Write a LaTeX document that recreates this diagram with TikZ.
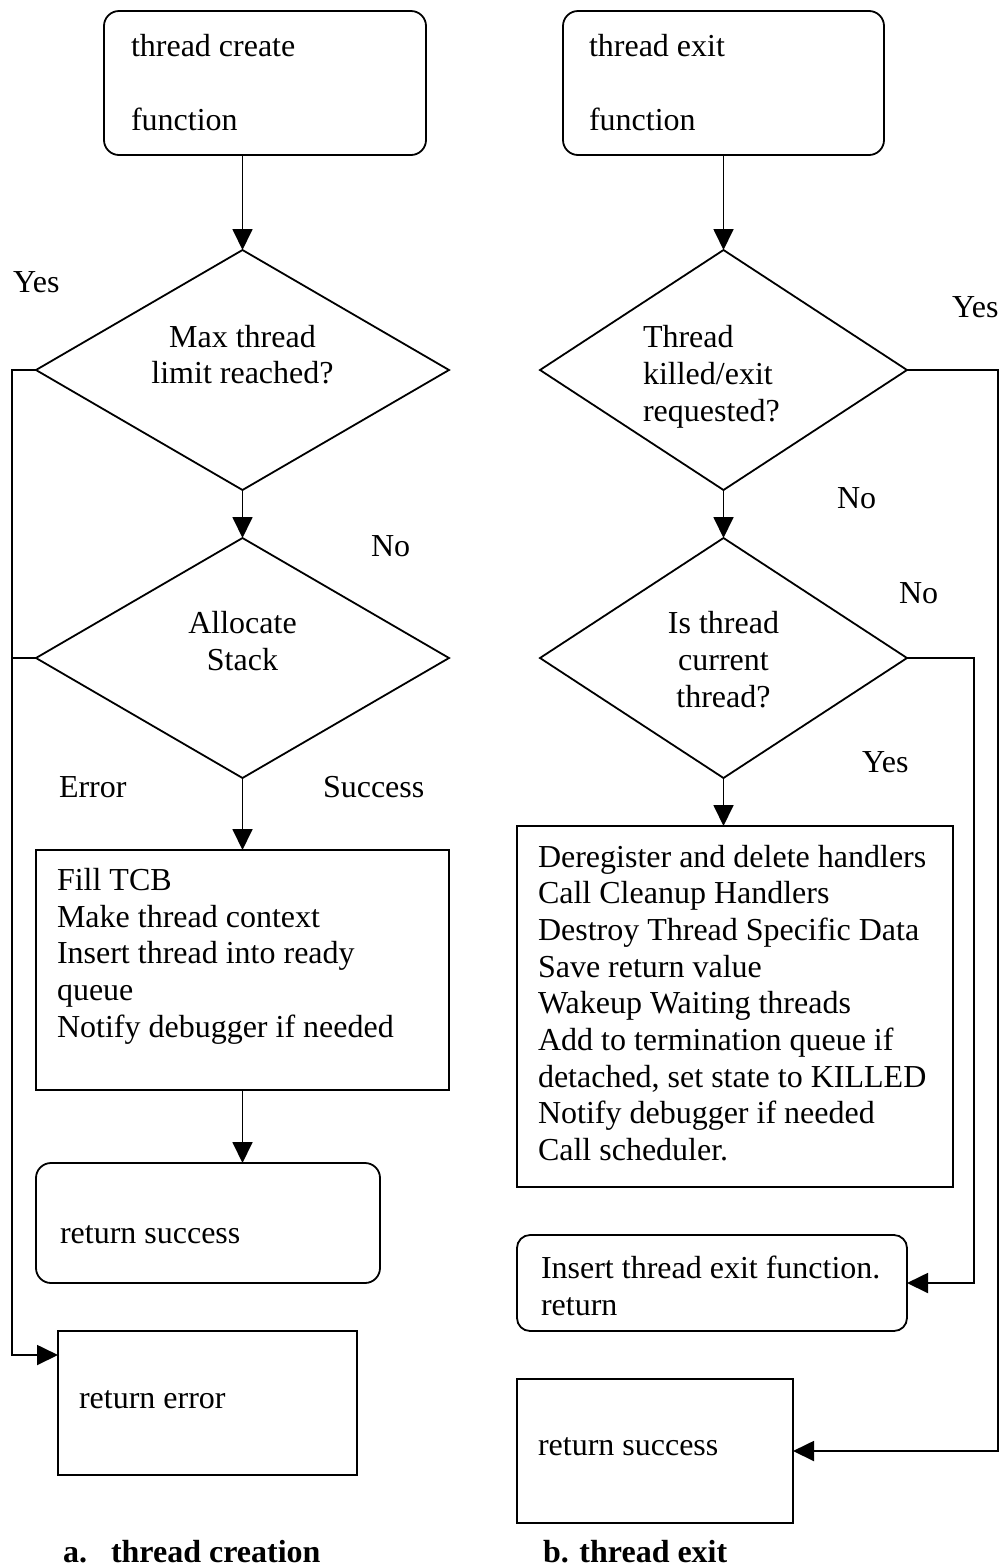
\documentclass[tikz,border=0pt]{standalone}
\usepackage{fontspec}
\setmainfont{Liberation Serif}
\usetikzlibrary{shapes.geometric,arrows.meta,calc}
\begin{document}
\begin{tikzpicture}[x=1pt,y=-1pt,line width=1.8pt,
  font=\fontsize{32}{37}\selectfont,
  box/.style={draw,rectangle,inner sep=0pt,outer sep=0pt},
  rbox/.style={box,rounded corners=15pt},
  dia/.style={draw,diamond,inner sep=0pt,outer sep=0pt},
  arr/.style={-{Triangle[length=21pt,width=20pt]}},
  tw/.style={inner sep=0pt,outer sep=0pt,anchor=base west},
  tc/.style={inner sep=0pt,outer sep=0pt,anchor=base},
  captxt/.style={tw,font=\fontsize{32}{37}\selectfont\bfseries}]
\useasboundingbox (0,0) rectangle (1003,1567);

% ---- shapes, left column
\node[rbox,minimum width=322pt,minimum height=144pt] (s1) at (265,83) {};
\node[dia,minimum width=413pt,minimum height=240pt] (d1) at (242.5,370) {};
\node[dia,minimum width=413pt,minimum height=240pt] (d2) at (242.5,658) {};
\node[box,minimum width=413pt,minimum height=240pt] (fill) at (242.5,970) {};
\node[rbox,minimum width=344pt,minimum height=120pt] (rs1) at (208,1223) {};
\node[box,minimum width=299pt,minimum height=144pt] (re) at (207.5,1403) {};

% ---- shapes, right column
\node[rbox,minimum width=321pt,minimum height=144pt] (s2) at (723.5,83) {};
\node[dia,minimum width=367pt,minimum height=240pt] (d3) at (723.5,370) {};
\node[dia,minimum width=367pt,minimum height=240pt] (d4) at (723.5,658) {};
\node[box,minimum width=436pt,minimum height=361pt] (main) at (735,1006.5) {};
\node[rbox,rounded corners=13pt,minimum width=390pt,minimum height=96pt] (ins) at (712,1283) {};
\node[box,minimum width=276pt,minimum height=144pt] (rs2) at (655,1451) {};

% ---- texts, left column
\node[tw] (t1a) at (131,56) {thread create};
\node[tw] (t1b) at (131,130) {function};
\node[tc] (t2a) at (242.5,347) {Max thread};
\node[tc] (t2b) at (242.5,383) {limit reached?};
\node[tc] (t3a) at (242.5,633) {Allocate};
\node[tc] (t3b) at (242.5,670) {Stack};
\node[tw] (t4a) at (57,890) {Fill TCB};
\node[tw] (t4b) at (57,927) {Make thread context};
\node[tw] (t4c) at (57,963) {Insert thread into ready};
\node[tw] (t4d) at (57,1000) {queue};
\node[tw] (t4e) at (57,1037) {Notify debugger if needed};
\node[tw] (t5) at (60,1243) {return success};
\node[tw] (t6) at (79,1408) {return error};
\node[tw] (lyes1) at (13,292) {Yes};
\node[tw] (lno1) at (371,556) {No};
\node[tw] (lerr) at (59,797) {Error};
\node[tw] (lsuc) at (323,797) {Success};
\node[captxt] (capa1) at (63,1562) {a.};
\node[captxt] (capa2) at (111,1562) {thread creation};

% ---- texts, right column
\node[tw] (u1a) at (589,56) {thread exit};
\node[tw] (u1b) at (589,130) {function};
\node[tw] (u2a) at (643,347) {Thread};
\node[tw] (u2b) at (643,384) {killed/exit};
\node[tw] (u2c) at (643,421) {requested?};
\node[tc] (u3a) at (723.5,633) {Is thread};
\node[tc] (u3b) at (723.5,670) {current};
\node[tc] (u3c) at (723.5,707) {thread?};
\node[tw] (u4a) at (538,867) {Deregister and delete handlers};
\node[tw] (u4b) at (538,903) {Call Cleanup Handlers};
\node[tw] (u4c) at (538,940) {Destroy Thread Specific Data};
\node[tw] (u4d) at (538,977) {Save return value};
\node[tw] (u4e) at (538,1013) {Wakeup Waiting threads};
\node[tw] (u4f) at (538,1050) {Add to termination queue if};
\node[tw] (u4g) at (538,1087) {detached, set state to KILLED};
\node[tw] (u4h) at (538,1123) {Notify debugger if needed};
\node[tw] (u4i) at (538,1160) {Call scheduler.};
\node[tw] (u5a) at (541,1278) {Insert thread exit function.};
\node[tw] (u5b) at (541,1315) {return};
\node[tw] (u6) at (538,1455) {return success};
\node[tw] (lyes2) at (952,317) {Yes};
\node[tw] (lno2) at (837,508) {No};
\node[tw] (lno3) at (899,603) {No};
\node[tw] (lyes3) at (862,772) {Yes};
\node[captxt] (capb) at (543,1562) {b. thread exit};

% ---- connectors, left
\draw[arr] (d1.north |- s1.south) -- (d1.north);
\draw[arr] (d1.south) -- (d2.north);
\draw[arr] (d2.south) -- (fill.north);
\draw[arr] (fill.south) -- (fill.south |- rs1.north);
\coordinate (yl) at (12,370);
\coordinate (rein) at ($(re.north west)+(0,24)$);
\draw[arr] (d1.west) -- (yl) |- (rein);
\draw (d2.west) -- (d2.west -| yl);

% ---- connectors, right
\draw[arr] (d3.north |- s2.south) -- (d3.north);
\draw[arr] (d3.south) -- (d4.north);
\draw[arr] (d4.south) -- (d4.south |- main.north);
\coordinate (yr) at (998,370);
\draw[arr] (d3.east) -- (yr) |- (rs2.east);
\coordinate (nr) at (974,658);
\draw[arr] (d4.east) -- (nr) |- (ins.east);
\end{tikzpicture}
\end{document}
